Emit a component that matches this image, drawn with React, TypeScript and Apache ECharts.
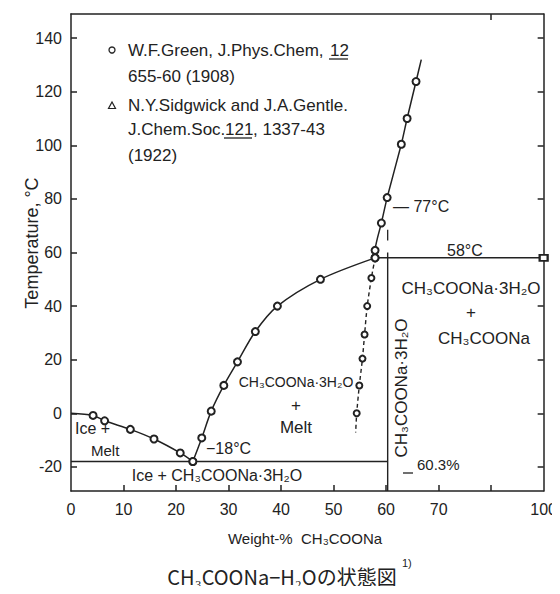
import React, { useEffect, useRef } from "react";
import * as echarts from "echarts";

// ---- data (weight-% CH3COONa, temperature °C) ----
const ICE_X = [0, 4.2, 6.4, 11.3, 15.8, 20.8, 23.2];
const ICE_T = [0, -0.8, -2.8, -6, -9.6, -14.8, -18];

const TRI_X = [23.2, 24.9, 26.7, 29.1, 31.7, 35.1, 39.3, 47.5, 57.9];
const TRI_T = [-18, -9.2, 0.8, 10.4, 19.2, 30.5, 40, 50, 58];

const ANH_X = [57.9, 57.9, 59.1, 60.2, 62.9, 64.0, 65.7, 66.7];
const ANH_T = [58, 60.8, 71, 80.5, 100.4, 110, 123.8, 132];

const META_X = [57.9, 57.2, 56.4, 55.9, 55.5, 54.9, 54.4, 54.2];
const META_T = [58, 50.5, 40, 29.4, 20.4, 10.4, 0, -7.2];

const EUTECTIC_T = -18;
const PERITECTIC_T = 58;
const PERITECTIC_X = 57.9;
const HYDRATE_X = 60.3;
const PURE_X = 100;

const X_TICKS = [10, 20, 30, 40, 50, 60, 70, 85];
const X_LABELS = [0, 10, 20, 30, 40, 50, 60, 70, 100];
const Y_LABELS = [-20, 0, 20, 40, 60, 80, 100, 120, 140];
const Y_RIGHT_TICKS = [-20, 0, 20, 40, 80, 100, 120, 140];
const Y_MIN = -29;
const Y_MAX = 149;

// the original drawing compresses the 70-100 % part of the axis
const toAxis = (w: number) => (w <= 70 ? w : 70 + ((w - 70) * 20) / 30);
const fromAxis = (a: number) => (a <= 70 ? a : 70 + ((a - 70) * 30) / 20);

const INK = "#222";
const FONT = "Liberation Sans";

function pts(xs: number[], ts: number[], noSym: number[] = []) {
  return xs.map((x, i) =>
    noSym.includes(i)
      ? { value: [toAxis(x), ts[i]], symbol: "none" }
      : { value: [toAxis(x), ts[i]] }
  );
}

function txt(x: number, y: number, text: string, fontSize = 16, align = "left", extra: any = {}, family = FONT) {
  return {
    type: "text",
    x,
    y,
    ...extra,
    style: {
      text,
      fontSize,
      fontFamily: family,
      fill: INK,
      textAlign: align,
      textVerticalAlign: "middle",
      align,
      verticalAlign: "middle",
    },
  };
}

function ln(x1: number, y1: number, x2: number, y2: number) {
  return {
    type: "line",
    shape: { x1, y1, x2, y2 },
    style: { stroke: INK, lineWidth: 1.3 },
  };
}

export default function App() {
  const ref = useRef<HTMLDivElement>(null);

  useEffect(() => {
    if (!ref.current) return;
    const chart = echarts.init(ref.current, undefined, { renderer: "svg" });

    const lineStyle = { color: INK, width: 1.5 };
    const sym = {
      symbol: "emptyCircle",
      symbolSize: 7,
      itemStyle: { color: INK, borderColor: INK, borderWidth: 1.3 },
    };
    const axisLine = { show: true, onZero: false, lineStyle: { color: INK, width: 1.5 } };
    const tick = (vals: number[]) => ({
      show: true,
      inside: true,
      length: 6,
      customValues: vals,
      lineStyle: { color: INK, width: 1.5 },
    });

    chart.setOption({
      animation: false,
      backgroundColor: "#fff",
      grid: { left: 71, right: 14, top: 14, bottom: 103 },
      xAxis: [
        {
          type: "value",
          min: 0,
          max: toAxis(PURE_X),
          position: "bottom",
          axisLine,
          axisTick: tick(X_TICKS.map(toAxis)),
          axisLabel: {
            customValues: X_LABELS.map(toAxis),
            formatter: (v: number) => String(Math.round(fromAxis(v))),
            fontSize: 16,
            fontFamily: FONT,
            color: INK,
            margin: 10,
          },
          splitLine: { show: false },
        },
        {
          type: "value",
          min: 0,
          max: toAxis(PURE_X),
          position: "top",
          axisLine,
          axisTick: tick([toAxis(85)]),
          axisLabel: { show: false },
          splitLine: { show: false },
        },
      ],
      yAxis: [
        {
          type: "value",
          min: Y_MIN,
          max: Y_MAX,
          position: "left",
          axisLine,
          axisTick: tick(Y_LABELS),
          axisLabel: {
            customValues: Y_LABELS,
            fontSize: 16,
            fontFamily: FONT,
            color: INK,
            margin: 9,
          },
          splitLine: { show: false },
        },
        {
          type: "value",
          min: Y_MIN,
          max: Y_MAX,
          position: "right",
          axisLine,
          axisTick: tick(Y_RIGHT_TICKS),
          axisLabel: { show: false },
          splitLine: { show: false },
        },
      ],
      series: [
        {
          type: "line",
          name: "ice",
          data: pts(ICE_X, ICE_T, [0]),
          smooth: 0.3,
          lineStyle,
          ...sym,
          z: 3,
        },
        {
          type: "line",
          name: "trihydrate",
          data: pts(TRI_X, TRI_T),
          smooth: 0.3,
          lineStyle,
          ...sym,
          z: 3,
        },
        {
          type: "line",
          name: "anhydrous",
          data: pts(ANH_X, ANH_T, [ANH_X.length - 1]),
          smooth: 0.2,
          lineStyle,
          ...sym,
          z: 3,
        },
        {
          type: "line",
          name: "metastable",
          data: pts(META_X, META_T, [0, META_X.length - 1]),
          smooth: 0.2,
          lineStyle: { color: INK, width: 1.4, type: [4, 3] },
          ...sym,
          symbolSize: 6,
          z: 3,
        },
        {
          type: "line",
          name: "eutectic",
          data: [
            [toAxis(0), EUTECTIC_T],
            [toAxis(HYDRATE_X), EUTECTIC_T],
          ],
          symbol: "none",
          lineStyle,
        },
        {
          type: "line",
          name: "peritectic",
          data: [
            { value: [toAxis(PERITECTIC_X), PERITECTIC_T], symbol: "none" },
            { value: [toAxis(PURE_X), PERITECTIC_T] },
          ],
          symbol: "emptyRect",
          symbolSize: [8, 6],
          itemStyle: { color: INK, borderColor: INK, borderWidth: 1.3 },
          lineStyle,
        },
        {
          type: "line",
          name: "hydrate",
          data: [
            [toAxis(HYDRATE_X), PERITECTIC_T + 2],
            [toAxis(HYDRATE_X), Y_MIN],
          ],
          symbol: "none",
          lineStyle: { color: INK, width: 1.4 },
        },
        {
          type: "line",
          name: "hydrate-up",
          data: [
            [toAxis(HYDRATE_X), 64.5],
            [toAxis(HYDRATE_X), 68.5],
          ],
          symbol: "none",
          lineStyle: { color: INK, width: 1.3 },
        },
      ],
      graphic: [
        // legend
        { type: "circle", shape: { cx: 112, cy: 50, r: 3 }, style: { fill: "#fff", stroke: INK, lineWidth: 1.3 } },
        txt(128, 50, "W.F.Green, J.Phys.Chem,", 17),
        txt(330, 50, "12", 17),
        ln(329, 59, 348, 59),
        txt(128, 76, "655-60 (1908)", 17),
        {
          type: "polygon",
          shape: { points: [[112, 102], [108.5, 108.5], [115.5, 108.5]] },
          style: { fill: "#fff", stroke: INK, lineWidth: 1.2 },
        },
        txt(128, 105, "N.Y.Sidgwick and J.A.Gentle.", 17),
        txt(128, 129, "J.Chem.Soc.", 17),
        txt(225, 129, "121", 17),
        ln(224, 138, 252, 138),
        txt(253, 129, ", 1337-43", 17),
        txt(128, 155, "(1922)", 17),
        // annotations
        txt(393, 206, "— 77°C"),
        txt(447, 250, "58°C"),
        txt(471, 288, "CH₃COONa·3H₂O", 17, "center"),
        txt(471, 312, "+", 17, "center"),
        txt(484, 338, "CH₃COONa", 17, "center"),
        txt(401, 388, "CH₃COONa·3H₂O", 17, "center", { rotation: Math.PI / 2 }),
        ln(403, 473, 413, 473),
        txt(417, 464, "60.3%", 15),
        txt(296, 382, "CH₃COONa·3H₂O", 14, "center"),
        txt(296, 405, "+", 17, "center"),
        txt(296, 427, "Melt", 17, "center"),
        txt(75, 428, "Ice +", 16),
        txt(91, 450, "Melt", 15),
        txt(206, 448, "−18°C", 16),
        txt(217, 475, "Ice + CH₃COONa·3H₂O", 16, "center"),
        txt(32, 243, "Temperature, °C", 18, "center", { rotation: Math.PI / 2 }),
        txt(305, 538, "Weight-%  CH₃COONa", 15, "center"),
        txt(282, 576, "CH₃COONa−H₂Oの状態図", 20, "center", {}, "Noto Sans CJK JP"),
        txt(402, 563, "1)", 11),
      ],
    });

    return () => chart.dispose();
  }, []);

  return <div ref={ref} style={{ width: 560, height: 594, margin: -8 }} />;
}
